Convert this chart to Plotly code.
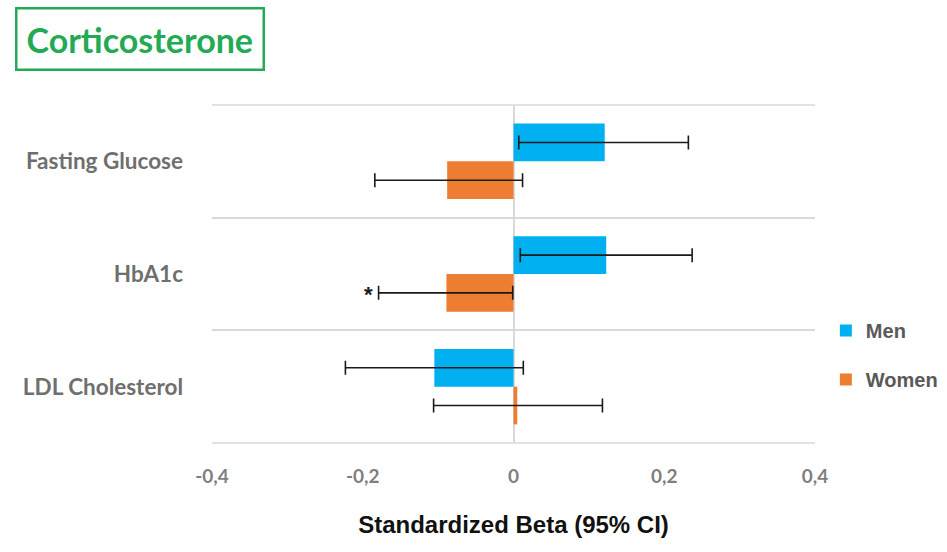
import plotly.graph_objects as go

categories = ["Fasting Glucose", "HbA1c", "LDL Cholesterol"]
men_beta = [0.121, 0.123, -0.105]
men_lower = [0.007, 0.009, -0.223]
men_upper = [0.232, 0.237, 0.013]
women_beta = [-0.088, -0.089, 0.005]
women_lower = [-0.184, -0.179, -0.106]
women_upper = [0.012, -0.001, 0.118]
significant_women = [False, True, False]
tick_vals = [-0.4, -0.2, 0, 0.2, 0.4]

W, H = 947, 552
L, R, T, B = 212, 132, 105, 109
PW, PH = W - L - R, H - T - B

def err(beta, lo, hi):
    return dict(type="data", symmetric=False,
                array=[h - b for b, h in zip(beta, hi)],
                arrayminus=[b - l for b, l in zip(beta, lo)],
                color="#1a1a1a", thickness=1.6, width=7)

fig = go.Figure()
fig.add_trace(go.Bar(y=categories, x=men_beta, name="<b>Men</b>", orientation="h",
                     marker=dict(color="#00B0F0", line=dict(width=0)),
                     error_x=err(men_beta, men_lower, men_upper), legendgroup="m"))
fig.add_trace(go.Bar(y=categories, x=women_beta, name="<b>Women</b>", orientation="h",
                     marker=dict(color="#ED7D31", line=dict(width=0)),
                     error_x=err(women_beta, women_lower, women_upper), legendgroup="w"))

for cat, lo, sig in zip(categories, women_lower, significant_women):
    if sig:
        fig.add_annotation(x=lo, y=cat, xref="x", yref="y", text="<b>*</b>", showarrow=False,
                           xanchor="right", yanchor="middle", xshift=-4, yshift=-20,
                           font=dict(family="Liberation Sans", size=22, color="#1a1a1a"))

# title box
fig.add_annotation(x=(139.5 - L) / PW, y=1 + (T - 38.5) / PH, xref="paper", yref="paper",
                   text="<b>Corticosterone</b>", showarrow=False,
                   xanchor="center", yanchor="middle",
                   font=dict(family="Lato", size=34, color="#22AA55"),
                   bordercolor="#22AA55", borderwidth=2.5, borderpad=9)

# top and bottom category boundary lines
for yy in (0, 1):
    fig.add_shape(type="line", xref="paper", yref="paper", x0=0, x1=1, y0=yy, y1=yy,
                  line=dict(color="#D9D9D9", width=1.5), layer="below")

fig.update_layout(
    width=W, height=H, margin=dict(l=L, r=R, t=T, b=B, autoexpand=False),
    paper_bgcolor="white", plot_bgcolor="white",
    barmode="group", bargap=0.33, bargroupgap=0,
    separators=",.",
    font=dict(family="Lato", color="#595959"),
    showlegend=True,
    legend=dict(x=1.018, y=0.26, xanchor="left", yanchor="middle", tracegroupgap=20,
                font=dict(family="Liberation Sans", size=20, color="#595959"),
                itemwidth=30, bgcolor="rgba(0,0,0,0)"),
    xaxis=dict(range=[-0.4, 0.4], tickvals=tick_vals,
               ticktext=["<b>" + f"{v:g}".replace(".", ",") + "</b>" for v in tick_vals],
               showgrid=False, zeroline=True, zerolinecolor="#D9D9D9", zerolinewidth=1.5,
               showline=False, ticks="", ticklabelstandoff=20,
               tickfont=dict(family="Lato", size=19, color="#7F7F7F"),
               title=dict(text="<b>Standardized Beta (95% CI)</b>", standoff=30,
                          font=dict(family="Liberation Sans", size=24, color="#111111"))),
    yaxis=dict(autorange="reversed", type="category", tickson="boundaries",
               showgrid=True, gridcolor="#D9D9D9", gridwidth=1.5, ticks="", showline=False,
               ticklabelstandoff=28,
               tickfont=dict(family="Lato", size=22.5, color="#6F6F6F")),
)
fig.update_yaxes(ticktext=[f"<b>{c}</b>" for c in categories], tickvals=categories)

fig.write_html("out.html")
